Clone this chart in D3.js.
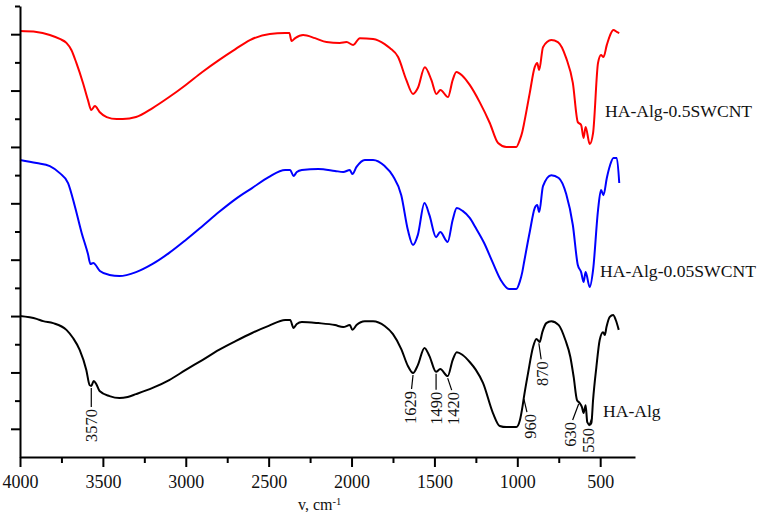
<!DOCTYPE html>
<html>
<head>
<meta charset="utf-8">
<script src="https://cdn.jsdelivr.net/npm/d3@7"></script>
<style>
body { margin: 0; background: #fff; }
svg { display: block; }
text { font-family: "Liberation Serif", "Times New Roman", serif; }
</style>
</head>
<body>
<svg></svg>
<script>
// IR spectra, transmittance in arbitrary units (curves offset)
var algWn = [4000,3900,3860,3800,3720,3680,3640,3600,3580,3570,3555,3540,3520,3460,3400,3350,3300,3200,3100,3000,2900,2800,2700,2600,2500,2400,2370,2350,2330,2300,2200,2100,2050,2010,1995,1970,1920,1870,1800,1750,1700,1660,1629,1600,1560,1530,1490,1465,1420,1390,1365,1330,1287,1250,1207,1147,1106,1066,1006,984,970,961,935,905,885,865,849,825,795,750,710,680,660,640,625,610,600,588,578,563,553,543,523,503,483,472,462,442,422,406,388];
var algT = [5.00,4.90,4.82,4.75,4.51,4.22,3.80,3.09,2.55,2.52,2.70,2.59,2.34,2.16,2.09,2.13,2.23,2.45,2.73,3.09,3.44,3.80,4.11,4.40,4.65,4.86,4.86,4.58,4.72,4.79,4.75,4.68,4.61,4.68,4.51,4.68,4.82,4.82,4.65,4.36,3.83,3.23,2.98,3.26,3.87,3.58,3.02,3.12,2.87,3.44,3.72,3.62,3.37,3.09,2.63,1.56,1.10,1.06,1.06,1.31,1.74,2.09,2.98,3.90,4.19,4.08,4.43,4.75,4.82,4.68,4.15,3.55,2.84,2.02,1.92,1.77,1.56,1.84,1.24,1.14,1.21,2.02,3.19,4.15,4.43,4.33,4.61,4.97,5.04,4.86,4.51];

var cnt005Wn = [4000,3900,3820,3760,3710,3668,3628,3590,3575,3558,3518,3460,3400,3300,3200,3100,3000,2900,2800,2700,2600,2500,2400,2370,2350,2330,2300,2200,2100,2050,2010,1995,1970,1920,1870,1800,1750,1700,1660,1629,1600,1560,1530,1490,1465,1420,1390,1365,1330,1287,1250,1200,1150,1100,1050,1006,984,970,961,925,895,880,868,845,795,750,705,665,635,615,600,588,563,543,513,495,480,460,440,420,400,385];
var cnt005T = [10.54,10.43,10.32,10.07,9.72,8.87,7.95,7.20,6.85,6.88,6.60,6.46,6.42,6.56,6.85,7.24,7.70,8.19,8.69,9.15,9.54,9.93,10.18,10.18,9.97,10.11,10.18,10.22,10.15,10.11,10.18,10.04,10.29,10.54,10.54,10.32,9.97,9.29,8.05,7.52,7.88,9.01,8.58,7.80,7.98,7.63,8.41,8.83,8.73,8.48,8.12,7.59,6.92,6.28,5.96,5.96,6.24,6.56,6.85,7.98,8.83,8.94,8.69,9.61,10.00,9.90,9.33,8.23,6.81,6.56,6.21,6.56,6.03,6.63,8.76,9.47,9.29,9.90,10.36,10.61,10.61,9.72];

var cnt05Wn = [4000,3900,3820,3760,3720,3690,3660,3620,3590,3570,3548,3520,3477,3417,3380,3300,3200,3100,3000,2900,2800,2700,2613,2493,2402,2375,2362,2340,2292,2220,2151,2071,2030,1990,1950,1870,1800,1769,1719,1669,1629,1600,1558,1518,1488,1464,1418,1390,1368,1330,1287,1227,1166,1116,1066,1006,985,970,961,925,895,880,868,845,795,755,705,665,635,615,600,588,563,543,513,495,480,460,440,420,400,385];
var cnt05T = [15.11,15.08,14.97,14.83,14.69,14.44,13.98,13.27,12.66,12.31,12.45,12.24,12.06,11.99,11.99,12.06,12.38,12.77,13.20,13.66,14.08,14.47,14.79,15.01,15.04,15.04,14.76,14.86,14.97,14.86,14.72,14.69,14.72,14.62,14.86,14.83,14.65,14.51,14.19,13.37,12.88,13.09,13.83,13.37,12.88,13.02,12.77,13.37,13.66,13.52,13.20,12.59,11.85,11.14,11.00,11.00,11.25,11.53,11.78,12.91,13.83,13.98,13.73,14.54,14.79,14.72,14.15,13.27,11.88,11.78,11.32,11.71,11.10,11.49,13.98,14.26,14.19,14.62,14.97,15.15,15.08,15.04];

var seriesNames = ['HA-Alg-0.5SWCNT', 'HA-Alg-0.05SWCNT', 'HA-Alg'];
var seriesColors = ['#ff0000', '#0000ff', '#000000'];

var xMajor = [4000, 3500, 3000, 2500, 2000, 1500, 1000, 500];
var xMinor = [3750, 3250, 2750, 2250, 1750, 1250, 750];
var peakLabels = [3570, 1629, 1490, 1420, 960, 870, 630, 550];

function zip(w, t) { return w.map(function (d, i) { return { wn: d, t: t[i] }; }); }
var series = [zip(cnt05Wn, cnt05T), zip(cnt005Wn, cnt005T), zip(algWn, algT)];

var svg = d3.select('svg')
    .attr('width', 759)
    .attr('height', 512);

var x = d3.scaleLinear().domain([4000, 290]).range([20, 635]);
var y = d3.scaleLinear().domain([0, 16]).range([457, 6]);

// curves
var line = d3.line()
    .x(function (d) { return x(d.wn); })
    .y(function (d) { return y(d.t); })
    .curve(d3.curveMonotoneX);

svg.selectAll('path.spec')
    .data(series)
    .enter().append('path')
    .attr('class', 'spec')
    .attr('d', line)
    .attr('fill', 'none')
    .attr('stroke', function (d, i) { return seriesColors[i]; })
    .attr('stroke-width', 2)
    .attr('stroke-linejoin', 'round');

// axes
var xAxis = svg.append('g')
    .attr('transform', 'translate(0,457)')
    .call(d3.axisBottom(x).tickValues(xMajor).tickFormat(d3.format('d'))
        .tickSize(10).tickPadding(8).tickSizeOuter(0));
xAxis.selectAll('text').attr('font-size', 18).attr('fill', '#111')
    .style('font-family', '"Liberation Serif", serif');

var xMinorAxis = svg.append('g')
    .attr('transform', 'translate(0,457)')
    .call(d3.axisBottom(x).tickValues(xMinor).tickFormat('').tickSize(6).tickSizeOuter(0));
xMinorAxis.select('.domain').remove();

var yAxis = svg.append('g')
    .attr('transform', 'translate(20,0)')
    .call(d3.axisLeft(y).tickValues(d3.range(1, 17)).tickFormat('').tickSizeOuter(0));
yAxis.selectAll('.tick line').attr('x2', function (d) { return d % 2 ? -9 : -5; });

svg.selectAll('.domain, .tick line').attr('stroke', '#000').attr('stroke-width', 2);

// axis title
var title = svg.append('text')
    .attr('x', 298)
    .attr('y', 510)
    .attr('font-size', 16)
    .attr('fill', '#111')
    .text('v, cm');
title.append('tspan')
    .attr('dy', -5)
    .attr('font-size', 10.5)
    .text('-1');

// series labels
var labelPos = [[605, 117], [600, 277], [603, 417]];
svg.selectAll('text.name')
    .data(seriesNames)
    .enter().append('text')
    .attr('class', 'name')
    .attr('x', function (d, i) { return labelPos[i][0]; })
    .attr('y', function (d, i) { return labelPos[i][1]; })
    .attr('font-size', 17.6)
    .attr('fill', '#111')
    .text(function (d) { return d; });

// peak labels on the HA-Alg curve
var algAt = d3.scaleLinear().domain(algWn).range(algT);
var leader = {
    3570: [0, 19, 0], 1629: [-1.5, 14, -1], 1490: [0, 16, 0], 1420: [4, 12, 2],
    960: [3, 13, 3], 870: [2.3, 16, 1], 630: [-6, 16, -2], 550: [-3, 8, -1]
};
var peaks = svg.append('g');
peakLabels.forEach(function (wn) {
    var px = x(wn), py = y(algAt(wn)) + 2, o = leader[wn];
    peaks.append('line')
        .attr('x1', px).attr('y1', py)
        .attr('x2', px + o[0]).attr('y2', py + o[1])
        .attr('stroke', '#000').attr('stroke-width', 1.2);
    peaks.append('text')
        .attr('transform', 'translate(' + (px + o[0] + o[2]) + ',' + (py + o[1] + 2) + ') rotate(-90)')
        .attr('text-anchor', 'end')
        .attr('dy', '0.35em')
        .attr('font-size', 16.5)
        .attr('fill', '#111')
        .text(wn);
});
</script>
</body>
</html>
